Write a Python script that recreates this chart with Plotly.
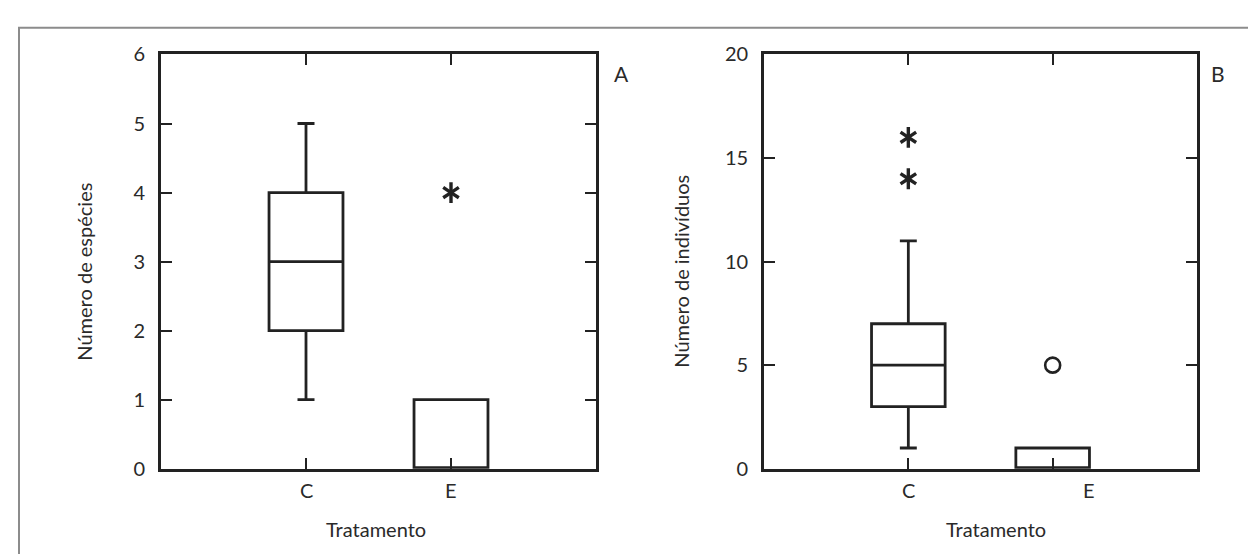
import plotly.graph_objects as go

W, H = 1256, 554

# ---- data ----
categories = ["C", "E"]

# Panel A: Número de espécies
a_q1 = [2, 0]
a_median = [3, 0]
a_q3 = [4, 1]
a_lower = [1, 0]
a_upper = [5, 1]
a_star_x = ["E"]
a_star_y = [4]

# Panel B: Número de indivíduos
b_q1 = [3, 0]
b_median = [5, 0]
b_q3 = [7, 1]
b_lower = [1, 0]
b_upper = [11, 1]
b_star_x = ["C", "C"]
b_star_y = [14, 16]
b_circle_x = ["E"]
b_circle_y = [5]

a_yticks = [0, 1, 2, 3, 4, 5, 6]
b_yticks = [0, 5, 10, 15, 20]

INK = "#222222"
TXT = "#2a2a2a"
FONT = "Lato"
FS = 20

def px(x):
    return x / W

def py(y):
    return 1 - y / H

fig = go.Figure()

def add_box(q1, med, q3, lo, hi, xa, ya):
    fig.add_trace(go.Box(
        x=categories, q1=q1, median=med, q3=q3, lowerfence=lo, upperfence=hi,
        width=0.51, whiskerwidth=0.23, boxpoints=False,
        line=dict(color=INK, width=2.8), fillcolor="rgba(0,0,0,0)",
        xaxis=xa, yaxis=ya, showlegend=False, hoverinfo="skip",
    ))

def add_stars(xs, ys, xa, ya):
    for sym in ["y-up-open", "y-down-open"]:
        fig.add_trace(go.Scatter(
            x=xs, y=ys, mode="markers", xaxis=xa, yaxis=ya, showlegend=False,
            marker=dict(symbol=sym, size=13, color=INK,
                        line=dict(color=INK, width=3.4)),
            hoverinfo="skip", cliponaxis=False,
        ))

add_box(a_q1, a_median, a_q3, a_lower, a_upper, "x", "y")
add_stars(a_star_x, a_star_y, "x", "y")
add_box(b_q1, b_median, b_q3, b_lower, b_upper, "x2", "y2")
add_stars(b_star_x, b_star_y, "x2", "y2")
fig.add_trace(go.Scatter(
    x=b_circle_x, y=b_circle_y, mode="markers", xaxis="x2", yaxis="y2",
    showlegend=False, hoverinfo="skip",
    marker=dict(symbol="circle-open", size=15, color=INK,
                line=dict(color=INK, width=2.6)),
))

xcommon = dict(type="category", categoryorder="array", categoryarray=categories,
               range=[-1, 2], showline=True, linecolor=INK, linewidth=2.8,
               mirror="ticks", ticks="inside", ticklen=11, tickwidth=2.4,
               tickcolor=INK, showticklabels=False, showgrid=False, zeroline=False,
               fixedrange=True)
ycommon = dict(showline=True, linecolor=INK, linewidth=2.8, mirror="ticks",
               ticks="inside", ticklen=11, tickwidth=2.4, tickcolor=INK,
               showgrid=False, zeroline=False, ticklabelstandoff=9,
               tickfont=dict(family=FONT, size=FS, color=TXT), fixedrange=True)

fig.update_layout(
    width=W, height=H, margin=dict(l=0, r=0, t=0, b=0),
    paper_bgcolor="white", plot_bgcolor="white",
    xaxis=dict(domain=[px(153), px(588)], anchor="y", **xcommon),
    yaxis=dict(domain=[py(468), py(35)], anchor="x", range=[0, 6],
               tickvals=a_yticks, **ycommon),
    xaxis2=dict(domain=[px(756), px(1189)], anchor="y2", **xcommon),
    yaxis2=dict(domain=[py(468), py(35)], anchor="x2", range=[0, 20],
                tickvals=b_yticks, **ycommon),
    font=dict(family=FONT, size=FS, color=TXT),
)

def label(x, y, text, xref="paper", angle=0, xshift=0, size=FS):
    return dict(x=x, y=y, xref=xref, yref="paper", text=text, showarrow=False,
                xanchor="center", yanchor="middle", textangle=angle,
                xshift=xshift, font=dict(size=size, color=TXT))

ann = []
# category labels
for xa, shifts in [("x", [0, 0]), ("x2", [0, 36])]:
    for c, s in zip(categories, shifts):
        ann.append(label(c, py(490), c, xref=xa, xshift=s))
ann += [
    label(px(368), py(531), "Tratamento"),
    label(px(988), py(531), "Tratamento"),
    label(px(76), py(262), "Número de espécies", angle=-90),
    label(px(673), py(262), "Número de indivíduos", angle=-90),
    label(px(613), py(55), "A", size=FS + 1),
    label(px(1210), py(55), "B", size=FS + 1),
]
fig.update_layout(annotations=ann)

# outer frame of the figure panel
fig.add_shape(type="rect", xref="paper", yref="paper",
              x0=px(11), x1=px(1300), y0=py(620), y1=py(7),
              line=dict(color="#8c8c8c", width=2), layer="below")

fig.write_html("out.html")
